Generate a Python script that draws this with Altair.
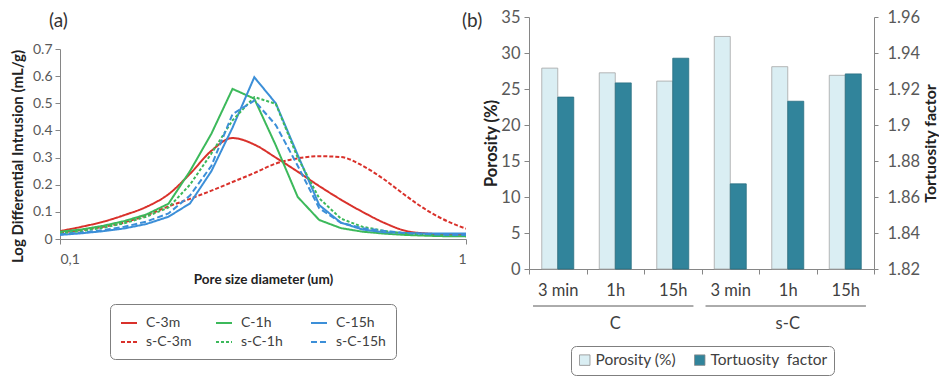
import altair as alt
import pandas as pd

# ---------------- (a) pore size distribution ----------------
sizes = [0.1, 0.113, 0.128, 0.144, 0.163, 0.185, 0.209, 0.236, 0.266, 0.301,
         0.340, 0.385, 0.435, 0.492, 0.556, 0.628, 0.710, 0.803, 0.907, 1.025]

c3m = [0.029, 0.045, 0.064, 0.088, 0.118, 0.165, 0.24, 0.325, 0.372, 0.348,
       0.30, 0.248, 0.195, 0.145, 0.10, 0.06, 0.03, 0.02, 0.017, 0.015]
c1h = [0.027, 0.035, 0.049, 0.066, 0.09, 0.13, 0.25, 0.388, 0.553, 0.517,
       0.345, 0.155, 0.07, 0.04, 0.027, 0.02, 0.015, 0.012, 0.01, 0.01]
c15h = [0.015, 0.021, 0.029, 0.039, 0.055, 0.082, 0.131, 0.25, 0.41, 0.596,
        0.50, 0.31, 0.125, 0.06, 0.035, 0.025, 0.022, 0.02, 0.02, 0.02]
sc3m = [0.024, 0.033, 0.045, 0.061, 0.087, 0.12, 0.148, 0.178, 0.21, 0.243,
        0.278, 0.297, 0.305, 0.302, 0.27, 0.22, 0.16, 0.105, 0.063, 0.033]
sc1h = [0.021, 0.029, 0.042, 0.058, 0.082, 0.116, 0.2, 0.315, 0.437, 0.523,
        0.498, 0.30, 0.15, 0.075, 0.045, 0.03, 0.02, 0.015, 0.012, 0.01]
sc15h = [0.017, 0.024, 0.033, 0.045, 0.064, 0.094, 0.16, 0.27, 0.46, 0.51,
         0.42, 0.27, 0.113, 0.06, 0.04, 0.03, 0.022, 0.018, 0.015, 0.015]

series_names = ["C-3m", "C-1h", "C-15h", "s-C-3m", "s-C-1h", "s-C-15h"]
series_values = [c3m, c1h, c15h, sc3m, sc1h, sc15h]
series_colors = ["#D9312B", "#3CB95B", "#3C8FD8", "#D9312B", "#3CB95B", "#3C8FD8"]
series_dashes = [[1, 0], [1, 0], [1, 0], [4, 2], [3, 2], [6, 3]]

# ---------------- (b) porosity / tortuosity ----------------
groups = ["C", "C", "C", "s-C", "s-C", "s-C"]
periods = ["3 min", "1h", "15h", "3 min", "1h", "15h"]
porosity = [27.9, 27.25, 26.1, 32.3, 28.1, 26.9]
tortuosity = [1.9155, 1.9234, 1.9371, 1.8673, 1.9132, 1.9284]

FONT = "Lato"
GREY = "#868686"
LBL = "#595959"

rows = []
for name, vals in zip(series_names, series_values):
    for s, v in zip(sizes, vals):
        rows.append({"size": s, "value": v, "series": name,
                     "smooth": name.endswith("3m")})
df = pd.DataFrame(rows)

# left panel: frame 222 tall, plot range from 32 to 222 inside it
W1, H1 = 406, 222
TOP1 = 32

leg1 = alt.Legend(title=None, orient="none", legendX=50, legendY=287, columns=3,
                  direction="horizontal",
                  symbolType="stroke", symbolSize=256, symbolStrokeWidth=2,
                  labelFont=FONT, labelFontSize=14, labelColor="#404040",
                  strokeColor="#7f7f7f", cornerRadius=5, padding=10,
                  columnPadding=16, rowPadding=3, labelOffset=8, gridAlign="all")

enc1 = dict(
    x=alt.X("size:Q",
            scale=alt.Scale(type="log", domain=[0.1, 1]),
            axis=alt.Axis(values=[0.1, 1],
                          labelExpr="datum.value < 0.5 ? '0,1' : '1'",
                          title="Pore size diameter (um)", titleFont=FONT,
                          titleFontSize=13.5, titleFontWeight="bold", titleColor="#222",
                          titlePadding=6, labelFont=FONT, labelFontSize=14,
                          labelColor=LBL, labelPadding=8, tickSize=5,
                          domainColor=GREY, tickColor=GREY, grid=False)),
    y=alt.Y("value:Q",
            scale=alt.Scale(domain=[0, 0.7], range=[H1, TOP1]),
            axis=alt.Axis(values=[0, 0.1, 0.2, 0.3, 0.4, 0.5, 0.6, 0.7],
                          format=".1~f", title="Log Differential Intrusion (mL/g)",
                          titleFont=FONT, titleFontSize=15, titleFontWeight="bold",
                          titleColor="#222", titlePadding=7, titleY=139,
                          labelFont=FONT,
                          labelFontSize=14, labelColor=LBL, labelPadding=3,
                          tickSize=5, domainColor=GREY, tickColor=GREY, grid=False)),
    color=alt.Color("series:N", scale=alt.Scale(domain=series_names, range=series_colors),
                    legend=leg1),
    strokeDash=alt.StrokeDash("series:N",
                              scale=alt.Scale(domain=series_names, range=series_dashes),
                              legend=leg1),
)

base1 = alt.Chart(df)
lines_smooth = base1.transform_filter("datum.smooth").mark_line(
    strokeWidth=2, clip=True, interpolate="monotone").encode(**enc1)
lines_sharp = base1.transform_filter("!datum.smooth").mark_line(
    strokeWidth=2, clip=True).encode(**enc1)

lab_a = alt.Chart(pd.DataFrame({"t": ["(a)"]})).mark_text(
    font=FONT, fontSize=19, color="#333", align="left", baseline="middle").encode(
    text="t:N", x=alt.value(-11), y=alt.value(4))
lab_b = alt.Chart(pd.DataFrame({"t": ["(b)"]})).mark_text(
    font=FONT, fontSize=19, color="#333", align="left", baseline="middle").encode(
    text="t:N", x=alt.value(402), y=alt.value(4))

left = alt.layer(lines_smooth, lines_sharp, lab_a, lab_b).properties(width=W1, height=H1)

# ---------------- right chart ----------------
keys = [g + "|" + p for g, p in zip(groups, periods)]
leg_names = ["Porosity (%)", "Tortuosity\u00a0 factor"]
bdf = pd.DataFrame({"key": keys, "porosity": porosity, "tortuosity": tortuosity,
                    "pname": [leg_names[0]] * 6, "tname": [leg_names[1]] * 6})

W2, H2 = 345, 252

xaxis = alt.Axis(title=None, labelExpr="split(datum.label, '|')[1]", labelAngle=0,
                 tickBand="extent", tickSize=5, labelPadding=8, labelFont=FONT,
                 labelFontSize=16.5, labelColor="#404040", domainColor=GREY,
                 tickColor=GREY, grid=False)
xscale = alt.Scale(domain=keys, paddingInner=0, paddingOuter=0)


def xenc(field="key", band=0.5):
    return alt.X(field + ":N", sort=keys, scale=xscale, axis=xaxis, bandPosition=band)


leg2 = alt.Legend(title=None, orient="none", legendX=42, legendY=329,
                  direction="horizontal", symbolType="square", symbolSize=110,
                  symbolStrokeColor="#8c8c8c", symbolStrokeWidth=0.8,
                  labelFont=FONT, labelFontSize=15.5, labelColor="#404040",
                  strokeColor="#7f7f7f", cornerRadius=5, padding=6,
                  columnPadding=16, labelOffset=3)
cscale = alt.Scale(domain=leg_names, range=["#DAEEF3", "#31849B"])

por = alt.Chart(bdf).mark_bar(width=16, xOffset=-8, stroke="#a6a6a6", strokeWidth=0.8).encode(
    x=xenc(),
    y=alt.Y("porosity:Q", scale=alt.Scale(domain=[0, 35]),
            axis=alt.Axis(values=list(range(0, 36, 5)), title="Porosity (%)",
                          titleFont=FONT, titleFontSize=16.5, titleFontWeight="bold",
                          titleColor="#222", titlePadding=1, labelFont=FONT,
                          labelFontSize=16.5, labelColor=LBL, labelPadding=4,
                          tickSize=5, domainColor=GREY, tickColor=GREY, grid=False)),
    color=alt.Color("pname:N", scale=cscale, legend=leg2),
)
tor = alt.Chart(bdf).mark_bar(width=16, xOffset=8, stroke="#2a6f82", strokeWidth=0.8).encode(
    x=xenc(),
    y=alt.Y("tortuosity:Q", scale=alt.Scale(domain=[1.82, 1.96], zero=False),
            axis=alt.Axis(orient="right",
                          values=[1.82, 1.84, 1.86, 1.88, 1.9, 1.92, 1.94, 1.96],
                          format=".2~f", title="Tortuosity factor", titleAngle=270,
                          titleBaseline="top",
                          titleFont=FONT, titleFontSize=16, titleFontWeight="bold",
                          titleColor="#222", titlePadding=3, labelFont=FONT,
                          labelFontSize=16.5, labelColor=LBL, labelPadding=9,
                          tickSize=4, domainColor=GREY, tickColor=GREY, grid=False)),
    y2=alt.datum(1.82),
    color=alt.Color("tname:N", scale=cscale, legend=leg2),
)

group_names = ["C", "s-C"]
rdf = pd.DataFrame({"key": [keys[0], keys[3]], "end": [keys[2], keys[5]]})
tdf = pd.DataFrame({"key": [keys[1], keys[4]], "label": group_names})

underline = alt.Chart(rdf).mark_rule(color="#595959", strokeWidth=1).encode(
    x=xenc(band=0.07), x2=alt.X2("end:N", bandPosition=0.86), y=alt.value(H2 + 37))
glabels = alt.Chart(tdf).mark_text(font=FONT, fontSize=16.5, color="#404040",
                                   baseline="middle").encode(
    x=xenc(), y=alt.value(H2 + 55), text="label:N")

right = alt.layer(por, tor, underline, glabels).resolve_scale(y="independent").properties(
    width=W2, height=H2)

chart = (alt.hconcat(left, right, spacing=0)
         .resolve_scale(color="independent", strokeDash="independent")
         .resolve_legend(color="independent", strokeDash="independent")
         .properties(padding={"left": 2, "right": 0, "top": 1, "bottom": 0})
         .configure_view(stroke=None))

chart.save("out.html", embed_options={"renderer": "svg", "actions": False})
